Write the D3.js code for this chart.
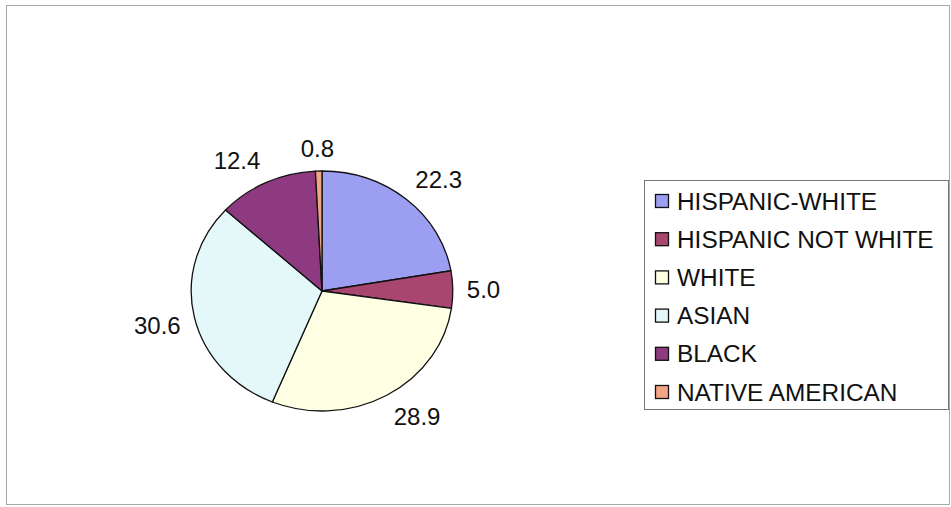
<!DOCTYPE html>
<html>
<head>
<meta charset="utf-8">
<script src="https://cdn.jsdelivr.net/npm/d3@7"></script>
<style>
  body { margin: 0; background: #fff; }
  text { font-family: "Liberation Sans", Arial, sans-serif; fill: #111; }
</style>
</head>
<body>
<script>
// chart data
var categories = ["HISPANIC-WHITE", "HISPANIC NOT WHITE", "WHITE", "ASIAN", "BLACK", "NATIVE AMERICAN"];
var values = [22.3, 5.0, 28.9, 30.6, 12.4, 0.8];
var colors = ["#9c9ef2", "#a8466f", "#ffffe3", "#e4f7f9", "#8e3a80", "#f2a584"];

main();

function main() {
  setupCanvasSize();
  appendSvg("body");
  addFrame();
  addPie();
  addLabels();
  addLegend();
}

function setupCanvasSize() {
  width = 951;
  height = 507;
  cx = 322;
  cy = 291;
  radius = 120;
  stretch = 1.09; // pie is drawn a little wider than tall
}

function appendSvg(domElement) {
  svg = d3.select(domElement).append("svg")
    .attr("width", width)
    .attr("height", height);
}

function addFrame() {
  svg.append("rect")
    .attr("x", 6.5)
    .attr("y", 5.5)
    .attr("width", 943)
    .attr("height", 499)
    .attr("fill", "none")
    .attr("stroke", "#a8a8a8")
    .attr("stroke-width", 1);
}

function addPie() {
  pie = d3.pie().sort(null).value(function (d) { return d; });
  arcs = pie(values);
  var arc = d3.arc().innerRadius(0).outerRadius(radius);

  var g = svg.append("g")
    .attr("transform", `translate(${cx}, ${cy}) scale(${stretch}, 1)`);

  g.selectAll("path")
    .data(arcs)
    .enter()
    .append("path")
    .attr("d", arc)
    .attr("fill", function (d, i) { return colors[i]; })
    .attr("stroke", "#111")
    .attr("stroke-width", 1.3)
    .attr("vector-effect", "non-scaling-stroke");
}

// value labels outside the slices, box pushed away from the rim
function addLabels() {
  var gap = 14;
  var clamp = function (v) { return Math.max(-1, Math.min(1, v)); };
  var labels = svg.append("g")
    .selectAll("text")
    .data(arcs)
    .enter()
    .append("text")
    .attr("text-anchor", "middle")
    .attr("dominant-baseline", "central")
    .style("font-size", "24px")
    .text(function (d) { return d.data.toFixed(1); });

  labels.each(function (d) {
    var box = this.getBBox();
    var a = (d.startAngle + d.endAngle) / 2;
    var s = Math.sin(a), c = Math.cos(a);
    var px = cx + (radius * stretch + gap) * s;
    var py = cy - (radius + gap) * c;
    d3.select(this)
      .attr("x", px + box.width / 2 * clamp(2.5 * s))
      .attr("y", py - 9 * clamp(2.5 * c));
  });
}

function addLegend() {
  var lx = 644.5, ly = 180.5, lw = 304, lh = 229;
  var legend = svg.append("g");
  legend.append("rect")
    .attr("x", lx)
    .attr("y", ly)
    .attr("width", lw)
    .attr("height", lh)
    .attr("fill", "#fff")
    .attr("stroke", "#777")
    .attr("stroke-width", 1);

  var rowY = d3.scalePoint()
    .domain(categories)
    .range([201, 392]);

  var items = legend.selectAll("g.item")
    .data(categories)
    .enter()
    .append("g")
    .attr("class", "item")
    .attr("transform", function (d) { return `translate(0, ${rowY(d)})`; });

  items.append("rect")
    .attr("x", 655.5)
    .attr("y", -6.5)
    .attr("width", 13)
    .attr("height", 13)
    .attr("fill", function (d, i) { return colors[i]; })
    .attr("stroke", "#111")
    .attr("stroke-width", 1.3);

  items.append("text")
    .attr("x", 677)
    .attr("y", 0)
    .attr("dominant-baseline", "central")
    .style("font-size", "24.4px")
    .text(function (d) { return d; });
}
</script>
</body>
</html>
